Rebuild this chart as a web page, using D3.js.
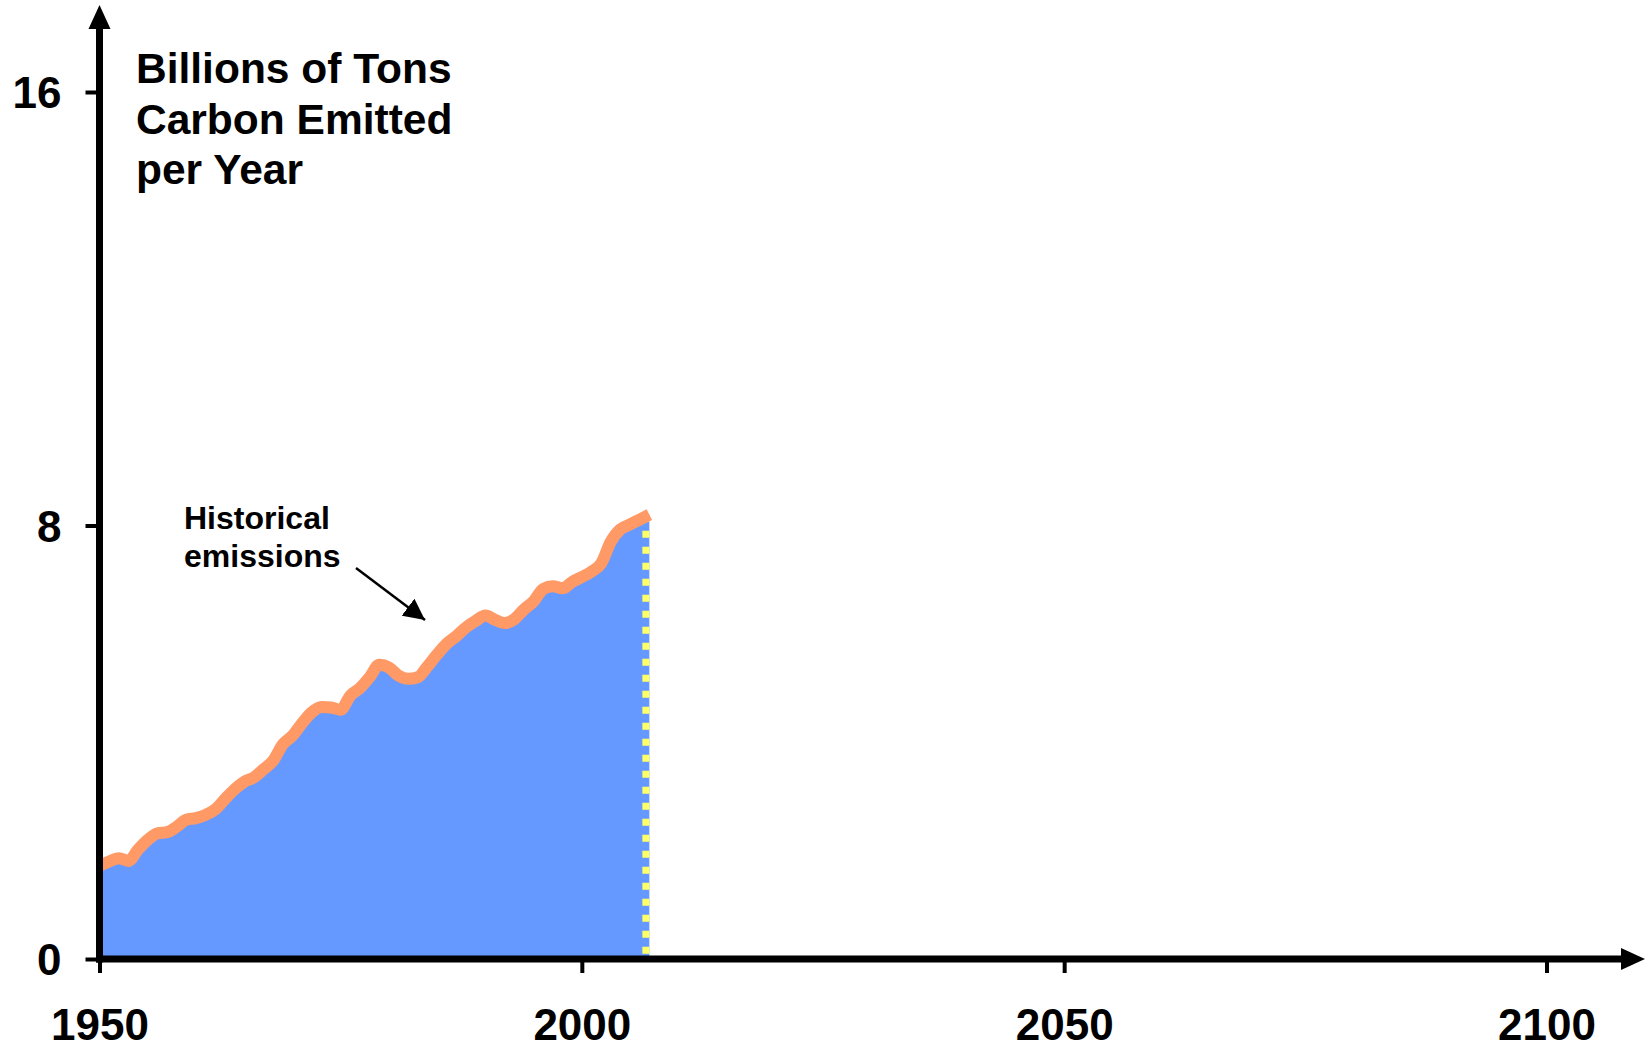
<!DOCTYPE html>
<html>
<head>
<meta charset="utf-8">
<script src="https://cdn.jsdelivr.net/npm/d3@7"></script>
<style>
  html, body { margin: 0; padding: 0; background: #ffffff; }
  svg { display: block; }
  text { font-family: "Liberation Sans", Arial, sans-serif; font-weight: bold; fill: #000; }
</style>
</head>
<body>
<svg id="chart" width="1649" height="1050"></svg>
<script>
// ---- Data ----
const years = [1950,1951,1952,1953,1954,1955,1956,1957,1958,1959,
               1960,1961,1962,1963,1964,1965,1966,1967,1968,1969,
               1970,1971,1972,1973,1974,1975,1976,1977,1978,1979,
               1980,1981,1982,1983,1984,1985,1986,1987,1988,1989,
               1990,1991,1992,1993,1994,1995,1996,1997,1998,1999,
               2000,2001,2002,2003,2004,2005,2006,2007];
const emissions = [1.72,1.80,1.86,1.81,2.02,2.20,2.32,2.34,2.44,2.57,
                   2.60,2.66,2.76,2.95,3.13,3.27,3.35,3.50,3.66,3.96,
                   4.12,4.35,4.55,4.65,4.64,4.60,4.86,5.00,5.20,5.43,
                   5.38,5.23,5.17,5.20,5.40,5.62,5.82,5.96,6.12,6.24,
                   6.34,6.26,6.20,6.27,6.45,6.60,6.83,6.88,6.84,6.96,
                   7.05,7.15,7.30,7.70,7.93,8.02,8.11,8.20];
const xTicks = [1950, 2000, 2050, 2100];
const yTicks = [0, 8, 16];
const titleLines = ["Billions of Tons", "Carbon Emitted", "per Year"];
const annotationLines = ["Historical", "emissions"];

const data = years.map((y, i) => ({ year: y, value: emissions[i] }));

// ---- Layout ----
const svg = d3.select("#chart");
const x = d3.scaleLinear().domain([1950, 2100]).range([99.5, 1546.5]);
const y = d3.scaleLinear().domain([0, 16]).range([959, 92]);
const axisX0 = x(1950), axisY0 = y(0);

// ---- Area ----
const area = d3.area()
  .x(d => x(d.year)).y0(y(0)).y1(d => y(d.value))
  .curve(d3.curveMonotoneX);
svg.append("path").datum(data)
  .attr("d", area)
  .attr("fill", "#6699FF");

// ---- Dotted end line ----
const last = data[data.length - 1];
svg.append("line")
  .attr("x1", x(last.year) - 3.5).attr("x2", x(last.year) - 3.5)
  .attr("y1", y(last.value)).attr("y2", y(0))
  .attr("stroke", "#FFFF66").attr("stroke-width", 7)
  .attr("stroke-dasharray", "7,9");

// ---- Emissions line ----
const line = d3.line()
  .x(d => x(d.year)).y(d => y(d.value))
  .curve(d3.curveMonotoneX);
svg.append("path").datum(data)
  .attr("d", line)
  .attr("fill", "none")
  .attr("stroke", "#FF9966")
  .attr("stroke-width", 12)
  .attr("stroke-linejoin", "round");

// ---- Axes ----
const yAxis = d3.axisLeft(y).tickValues(yTicks).tickSize(14).tickPadding(24).tickFormat(d3.format("d"));
const gy = svg.append("g").attr("transform", `translate(${axisX0},0)`).call(yAxis);
gy.select(".domain").remove();
gy.selectAll(".tick line").attr("stroke", "#000").attr("stroke-width", 4);
gy.selectAll(".tick text").attr("font-size", 44).attr("dy", "0.36em")
  .style("font-family", "'Liberation Sans', Arial, sans-serif").style("font-weight", "bold").attr("fill", "#000");

const xAxis = d3.axisBottom(x).tickValues(xTicks).tickSize(14).tickPadding(36).tickFormat(d3.format("d"));
const gx = svg.append("g").attr("transform", `translate(0,${axisY0})`).call(xAxis);
gx.select(".domain").remove();
gx.selectAll(".tick line").attr("stroke", "#000").attr("stroke-width", 4);
gx.selectAll(".tick text").attr("font-size", 44)
  .style("font-family", "'Liberation Sans', Arial, sans-serif").style("font-weight", "bold").attr("fill", "#000");

// axis lines with arrowheads
svg.append("line")
  .attr("x1", axisX0).attr("x2", axisX0)
  .attr("y1", axisY0 + 3.5).attr("y2", 26)
  .attr("stroke", "#000").attr("stroke-width", 7);
svg.append("path")
  .attr("d", `M${axisX0},5 L${axisX0 - 11},29 L${axisX0 + 11},29 Z`)
  .attr("fill", "#000");

svg.append("line")
  .attr("x1", axisX0 - 3.5).attr("x2", 1624)
  .attr("y1", axisY0).attr("y2", axisY0)
  .attr("stroke", "#000").attr("stroke-width", 7);
svg.append("path")
  .attr("d", `M1645,${axisY0} L1621,${axisY0 - 11} L1621,${axisY0 + 11} Z`)
  .attr("fill", "#000");

// ---- Title ----
const title = svg.append("text").attr("x", 136).attr("y", 83).attr("font-size", 42.5);
titleLines.forEach((t, i) => {
  title.append("tspan").attr("x", 136).attr("dy", i === 0 ? 0 : 50.5).text(t);
});

// ---- Annotation ----
const ann = svg.append("text").attr("x", 184).attr("y", 529).attr("font-size", 32);
annotationLines.forEach((t, i) => {
  ann.append("tspan").attr("x", 184).attr("dy", i === 0 ? 0 : 38).text(t);
});
svg.append("defs").append("marker")
  .attr("id", "ah").attr("viewBox", "0 0 10 10")
  .attr("refX", 10).attr("refY", 5)
  .attr("markerWidth", 8.5).attr("markerHeight", 8.5)
  .attr("markerUnits", "strokeWidth")
  .attr("orient", "auto")
  .append("path").attr("d", "M0,0 L10,5 L0,10 Z").attr("fill", "#000");
svg.append("line")
  .attr("x1", 356).attr("y1", 568).attr("x2", 425).attr("y2", 620)
  .attr("stroke", "#000").attr("stroke-width", 2.5)
  .attr("marker-end", "url(#ah)");
</script>
</body>
</html>
